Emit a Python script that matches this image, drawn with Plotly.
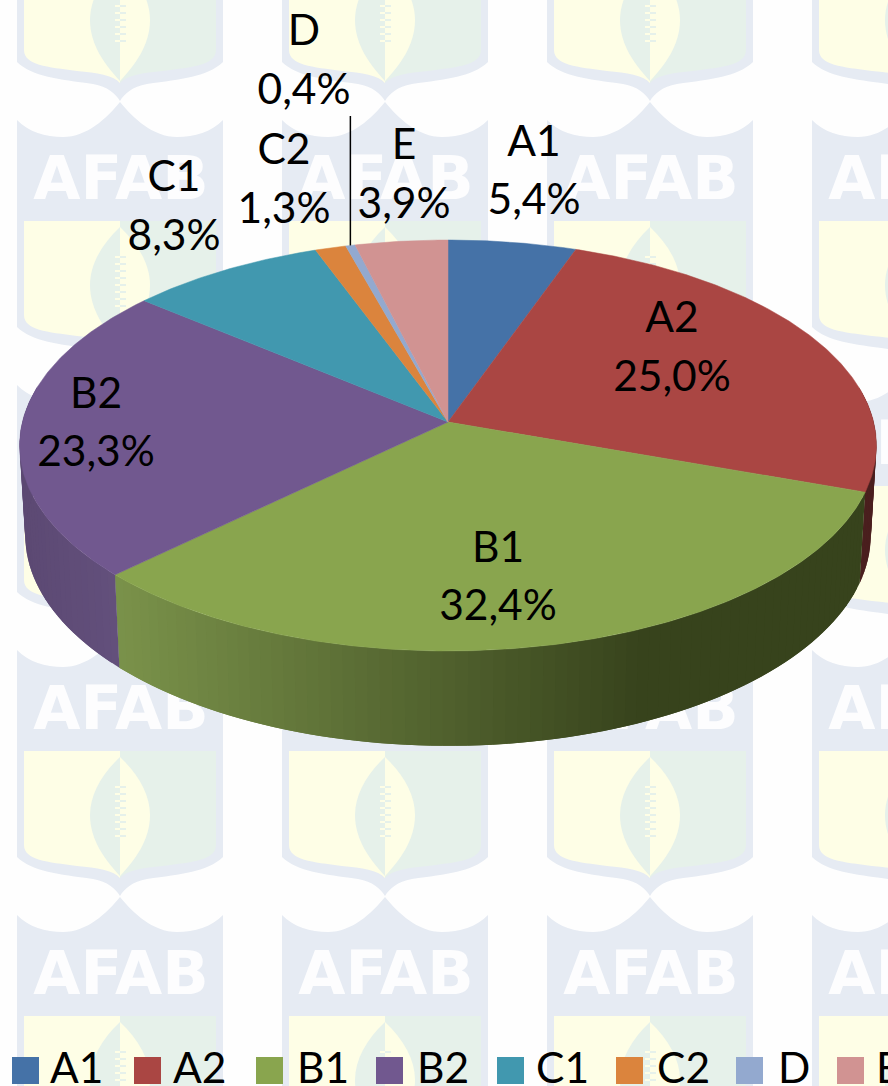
import numpy as np
import plotly.graph_objects as go

# ---- data ----
categories = ["A1", "A2", "B1", "B2", "C1", "C2", "D", "E"]
percent_values = [5.4, 25.0, 32.4, 23.3, 8.3, 1.3, 0.4, 3.9]

# ---- styles / layout ----
slice_colors = ["#4572A7", "#AA4643", "#89A54E", "#71588F", "#4198AF", "#DB843D", "#93A9CF", "#D19392"]
label_x = [534, 672, 498, 96, 174, 284, 304, 404]
name_y = [145, 321, 551, 397, 180, 153, 34, 148]
value_y = [203, 380, 609, 455, 239, 212, 93, 207]
legend_swatch_x = [25.5, 147.5, 269.5, 389.5, 510.5, 629.5, 749.5, 850.5]
legend_label_x = [50, 173, 297, 417, 536, 657, 778, 876]
FONT = "Lato, Carlito, Calibri, sans-serif"
LABEL_SIZE = 42.5
W, H = 888, 1086
CX, CY = 448, 422
PERSP = 0.1144
TOP = dict(bx=425.6, ay=202.8, y0=CY)
BOT = dict(bx=420.0, ay=208.0, y0=511.0)
BLUE, YEL, GRN = "#E6EBF3", "#FEFEE6", "#E6F1EA"


def project(theta, face):
    u, v = np.sin(theta), np.cos(theta)
    d = 1 + PERSP * v
    return CX + face["bx"] * u / d, face["y0"] - face["ay"] * v / d


def mix(a, b, t):
    t = min(max(t, 0), 1)
    return "rgb(%d,%d,%d)" % tuple(round(a[i] + (b[i] - a[i]) * t) for i in range(3))


def side_color(name, x):
    if name == "B1":
        return mix((122, 146, 74), (55, 67, 28), (x - 119) / (640 - 119))
    if name == "B2":
        return mix((92, 73, 115), (99, 80, 124), (x - 25) / (119 - 25))
    return "#4A1F1E"


# ---- watermark tiles ----
def tile_paths(x, y):
    p = lambda dx, dy: f"{x + dx:.0f},{y + dy:.0f}"
    outer = (
        f"M{p(0, 0)} C{p(12, 12)} {p(28, 17)} {p(46, 17)} C{p(70, 17)} {p(90, -2)} {p(103, -18)} "
        f"C{p(116, -2)} {p(136, 17)} {p(160, 17)} C{p(178, 17)} {p(194, 12)} {p(206, 0)} "
        f"L{p(206, 207)} C{p(190, 222)} {p(165, 224)} {p(130, 229)} C{p(115, 232)} {p(108, 238)} {p(103, 246)} "
        f"C{p(98, 238)} {p(91, 232)} {p(76, 229)} C{p(41, 224)} {p(16, 222)} {p(0, 207)} Z "
    )
    yel_panel = (f"M{p(7, 101)} L{p(103, 101)} L{p(103, 228)} C{p(96, 220)} {p(80, 218)} {p(60, 216)} "
                 f"C{p(30, 212)} {p(7, 210)} {p(7, 195)} Z")
    yel_lens = f"M{p(103, 107)} C{p(122, 125)} {p(133, 145)} {p(133, 165)} C{p(133, 190)} {p(118, 210)} {p(103, 226)} Z"
    grn_panel = (f"M{p(103, 101)} L{p(199, 101)} L{p(199, 195)} C{p(199, 210)} {p(176, 212)} {p(146, 216)} "
                 f"C{p(126, 218)} {p(110, 220)} {p(103, 228)} Z")
    grn_lens = f"M{p(103, 107)} C{p(84, 125)} {p(73, 145)} {p(73, 165)} C{p(73, 190)} {p(88, 210)} {p(103, 226)} Z"
    return outer, yel_panel, grn_panel, grn_lens, yel_lens


def below(path, **kw):
    return dict(type="path", path=path, layer="below", xref="x", yref="y", **kw)


outer_all = ""
shapes_rest = []
text_x, text_y = [], []
for i in range(4):
    for j in range(-1, 4):
        x0, y0 = 17 + 265 * i, 120 + 265 * j
        o, yp, gp, gl, yl = tile_paths(x0, y0)
        outer_all += o
        for path, col in ((yp, YEL), (gp, GRN), (gl, GRN), (yl, YEL)):
            shapes_rest.append(below(path, fillcolor=col, line_width=0))
        stitch_g = "".join(f"M{x0 + 98},{y0 + d} H{x0 + 103} " for d in range(137, 190, 7))
        stitch_y = "".join(f"M{x0 + 103},{y0 + d} H{x0 + 109} " for d in range(137, 190, 7))
        shapes_rest.append(below(stitch_g, line=dict(color=YEL, width=2)))
        shapes_rest.append(below(stitch_y, line=dict(color=GRN, width=2)))
        if j >= 0:
            text_x.append(x0 + 104)
            text_y.append(y0 + 64)
shapes = [below(outer_all, fillcolor=BLUE, line_width=0)] + shapes_rest

fig = go.Figure()
fig.add_trace(go.Scatter(x=text_x, y=text_y, mode="text", text=["AFAB"] * len(text_x),
                         textposition="middle center", hoverinfo="skip",
                         textfont=dict(family="DejaVu Sans", size=61, color="#FDFDFE", weight="bold")))

# ---- pie geometry comes from the values ----
fractions = np.array(percent_values) / sum(percent_values)
edges = np.concatenate([[0], np.cumsum(fractions)]) * 2 * np.pi

# sides: every strip runs under the next one, so no seams show
for name, a, b in zip(categories, edges[:-1], edges[1:]):
    lo, hi = max(a, np.radians(80)), min(b, np.radians(280))
    if hi <= lo:
        continue
    n = max(2, int(np.degrees(hi - lo) / 1.5))
    grid = np.linspace(lo, hi, n + 1)
    step = grid[1] - grid[0]
    for t0 in grid[:-1]:
        t1 = min(t0 + 2 * step, hi)
        tx, ty = project(np.linspace(t0, t1, 3), TOP)
        bx, by = project(np.linspace(t1, t0, 3), BOT)
        col = side_color(name, (tx[0] + bx[-1] + tx[1] + bx[1]) / 4)
        fig.add_trace(go.Scatter(x=np.r_[tx, bx, tx[0]], y=np.r_[ty, by, ty[0]], mode="lines", fill="toself",
                                 fillcolor=col, line=dict(color=col, width=0), hoverinfo="skip"))

# top faces
for name, a, b, col in zip(categories, edges[:-1], edges[1:], slice_colors):
    th = np.linspace(a, b, max(3, int(np.degrees(b - a) * 2)))
    ax, ay = project(th, TOP)
    fig.add_trace(go.Scatter(x=np.r_[CX, ax, CX], y=np.r_[CY, ay, CY], mode="lines", fill="toself", name=name,
                             fillcolor=col, line=dict(color=col, width=0.5), hoverinfo="name"))

# leader line for D
d_idx = categories.index("D")
lx, ly = project((edges[d_idx] + edges[d_idx + 1]) / 2, TOP)
fig.add_trace(go.Scatter(x=[lx, lx], y=[ly, 116], mode="lines", line=dict(color="black", width=1.5), hoverinfo="skip"))

# data labels
value_text = [f"{v:.1f}%".replace(".", ",") for v in percent_values]
fig.add_trace(go.Scatter(x=label_x, y=name_y, mode="text", text=categories, textposition="middle center",
                         hoverinfo="skip", textfont=dict(family=FONT, size=LABEL_SIZE, color="black")))
fig.add_trace(go.Scatter(x=label_x, y=value_y, mode="text", text=value_text, textposition="middle center",
                         hoverinfo="skip", textfont=dict(family=FONT, size=LABEL_SIZE, color="black")))

# legend row
fig.add_trace(go.Scatter(x=legend_swatch_x, y=[1070.5] * 8, mode="markers", hoverinfo="skip",
                         marker=dict(symbol="square", size=27, color=slice_colors, line_width=0)))
fig.add_trace(go.Scatter(x=legend_label_x, y=[1072] * 8, mode="text", text=categories, textposition="middle right",
                         hoverinfo="skip", textfont=dict(family=FONT, size=LABEL_SIZE, color="black")))

fig.update_layout(
    width=W, height=H, margin=dict(l=0, r=0, t=0, b=0), showlegend=False,
    paper_bgcolor="#FEFEFE", plot_bgcolor="rgba(0,0,0,0)", shapes=shapes,
    xaxis=dict(range=[0, W], visible=False, fixedrange=True),
    yaxis=dict(range=[H, 0], visible=False, fixedrange=True),
)
fig.write_html("out.html", config={"displayModeBar": False},
               post_script="document.body.style.margin='0';document.body.style.overflow='hidden';")
